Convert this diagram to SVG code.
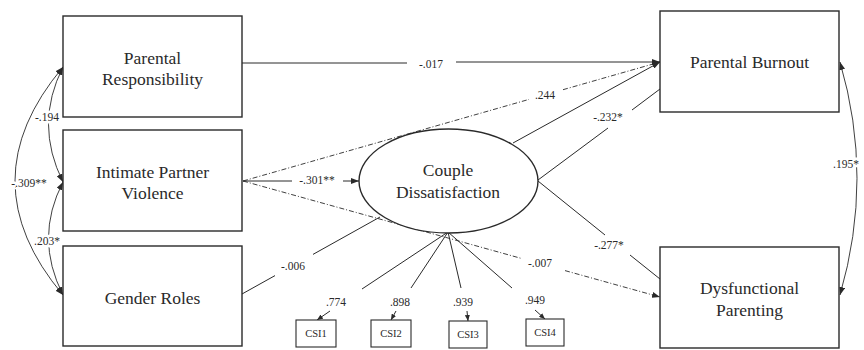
<svg xmlns="http://www.w3.org/2000/svg" width="864" height="350" viewBox="0 0 864 350" font-family="Liberation Serif, DejaVu Serif, serif">
<style>
.box{fill:#fff;stroke:#2a2a2a;stroke-width:1.4}
.sm{fill:#fff;stroke:#2a2a2a;stroke-width:1.1}
text{font-family:"Liberation Serif","DejaVu Serif",serif;fill:#2a2a2a;text-anchor:middle}
.t{font-size:17.5px}
.csi{font-size:10.5px}
.lab{font-size:11.5px}
.halo{stroke:#fff;stroke-width:5;paint-order:stroke;stroke-linejoin:round}
.ln{fill:none;stroke:#2a2a2a;stroke-width:1}
.dd{fill:none;stroke:#2a2a2a;stroke-width:0.9;stroke-dasharray:5,2,1,2}
.cv{fill:none;stroke:#2a2a2a;stroke-width:0.9}
</style>
<defs>
<marker id="ah" markerUnits="userSpaceOnUse" markerWidth="8" markerHeight="6" refX="8" refY="3" orient="auto-start-reverse">
<path d="M0,0 L8,3 L0,6 z" fill="#2a2a2a"/>
</marker>
<marker id="as" markerUnits="userSpaceOnUse" markerWidth="6" markerHeight="5" refX="6" refY="2.5" orient="auto">
<path d="M0,0 L6,2.5 L0,5 z" fill="#2a2a2a"/>
</marker>
</defs>
<g id="connectors">
<path class="ln" d="M242,63 L407,63"/>
<path class="ln" d="M456,62 L660,62" marker-end="url(#ah)"/>
<text class="lab" x="431" y="68" font-family="Liberation Serif">-.017</text>
<path class="dd" d="M243,181 L529,99.4"/>
<path class="dd" d="M563,89.7 L660,62" marker-end="url(#ah)"/>
<text class="lab" x="545" y="99">.244</text>
<path class="ln" d="M513,143 L660,62" marker-end="url(#ah)"/>
<path class="ln" d="M538,180 L608,128"/>
<path class="ln" d="M632,110 L660,89"/>
<text class="lab" x="608" y="121">-.232*</text>
<path class="ln" d="M243,181 L292,181"/>
<path class="ln" d="M343,181 L359,181" marker-end="url(#ah)"/>
<text class="lab" x="317" y="184">-.301**</text>
<path class="dd" d="M243,181 L522,258.6"/>
<path class="dd" d="M565,270.6 L660,297" marker-end="url(#ah)"/>
<text class="lab" x="540" y="267">-.007</text>
<path class="ln" d="M242,294 L275,275.6"/>
<path class="ln" d="M313,254.4 L380,217"/>
<text class="lab" x="293" y="270">-.006</text>
<path class="ln" d="M538,181 L605,235"/>
<path class="ln" d="M630,255 L660,279"/>
<text class="lab" x="609" y="249">-.277*</text>
<path class="ln" d="M448,232 L362,289"/>
<path class="ln" d="M330,311 L317,320" marker-end="url(#as)"/>
<text class="lab" x="336" y="306">.774</text>
<path class="ln" d="M448,232 L411,288"/>
<path class="ln" d="M396,311 L391,320" marker-end="url(#as)"/>
<text class="lab" x="400" y="306">.898</text>
<path class="ln" d="M448,232 L461,288"/>
<path class="ln" d="M467,311 L468,321" marker-end="url(#as)"/>
<text class="lab" x="463" y="306">.939</text>
<path class="ln" d="M448,232 L512,288"/>
<path class="ln" d="M535,310 L545,319" marker-end="url(#as)"/>
<text class="lab" x="535" y="304">.949</text>
<path class="cv" d="M63,67 Q34,124 63,182" marker-start="url(#ah)" marker-end="url(#ah)"/>
<path class="cv" d="M63,67 Q-33,181 63,295" marker-start="url(#ah)" marker-end="url(#ah)"/>
<path class="cv" d="M63,182 Q34,238 63,295" marker-start="url(#ah)" marker-end="url(#ah)"/>
<path class="cv" d="M840,62 Q874,178 840,295" marker-start="url(#ah)" marker-end="url(#ah)"/>
<text class="lab halo" x="47" y="121">-.194</text>
<text class="lab halo" x="29" y="187">-.309**</text>
<text class="lab halo" x="47" y="245">.203*</text>
<text class="lab halo" x="846" y="168">.195*</text>
</g>
<g id="parental-responsibility">
<rect class="box" x="63" y="16" width="179" height="101"/>
<text class="t" x="152.5" y="64">Parental</text>
<text class="t" x="152.5" y="85">Responsibility</text>
</g>
<g id="intimate-partner-violence">
<rect class="box" x="63" y="130" width="179" height="101"/>
<text class="t" x="152.5" y="178">Intimate Partner</text>
<text class="t" x="152.5" y="199">Violence</text>
</g>
<g id="gender-roles">
<rect class="box" x="63" y="246" width="179" height="100"/>
<text class="t" x="152.5" y="304">Gender Roles</text>
</g>
<g id="parental-burnout">
<rect class="box" x="660" y="11" width="179" height="101"/>
<text class="t" x="749.5" y="68">Parental Burnout</text>
</g>
<g id="dysfunctional-parenting">
<rect class="box" x="660" y="247" width="179" height="101"/>
<text class="t" x="749.5" y="294">Dysfunctional</text>
<text class="t" x="749.5" y="316">Parenting</text>
</g>
<g id="couple-dissatisfaction">
<ellipse class="box" cx="448.5" cy="181" rx="89.5" ry="52"/>
<text class="t" x="448" y="176">Couple</text>
<text class="t" x="448" y="198">Dissatisfaction</text>
</g>
<g id="csi1">
<rect class="sm" x="296" y="320" width="40" height="27"/>
<text class="csi" x="316" y="337">CSI1</text>
</g>
<g id="csi2">
<rect class="sm" x="371" y="320" width="40" height="27"/>
<text class="csi" x="391" y="337">CSI2</text>
</g>
<g id="csi3">
<rect class="sm" x="449" y="321" width="38" height="27"/>
<text class="csi" x="468" y="338">CSI3</text>
</g>
<g id="csi4">
<rect class="sm" x="526" y="319" width="38" height="27"/>
<text class="csi" x="545" y="336">CSI4</text>
</g>
</svg>
